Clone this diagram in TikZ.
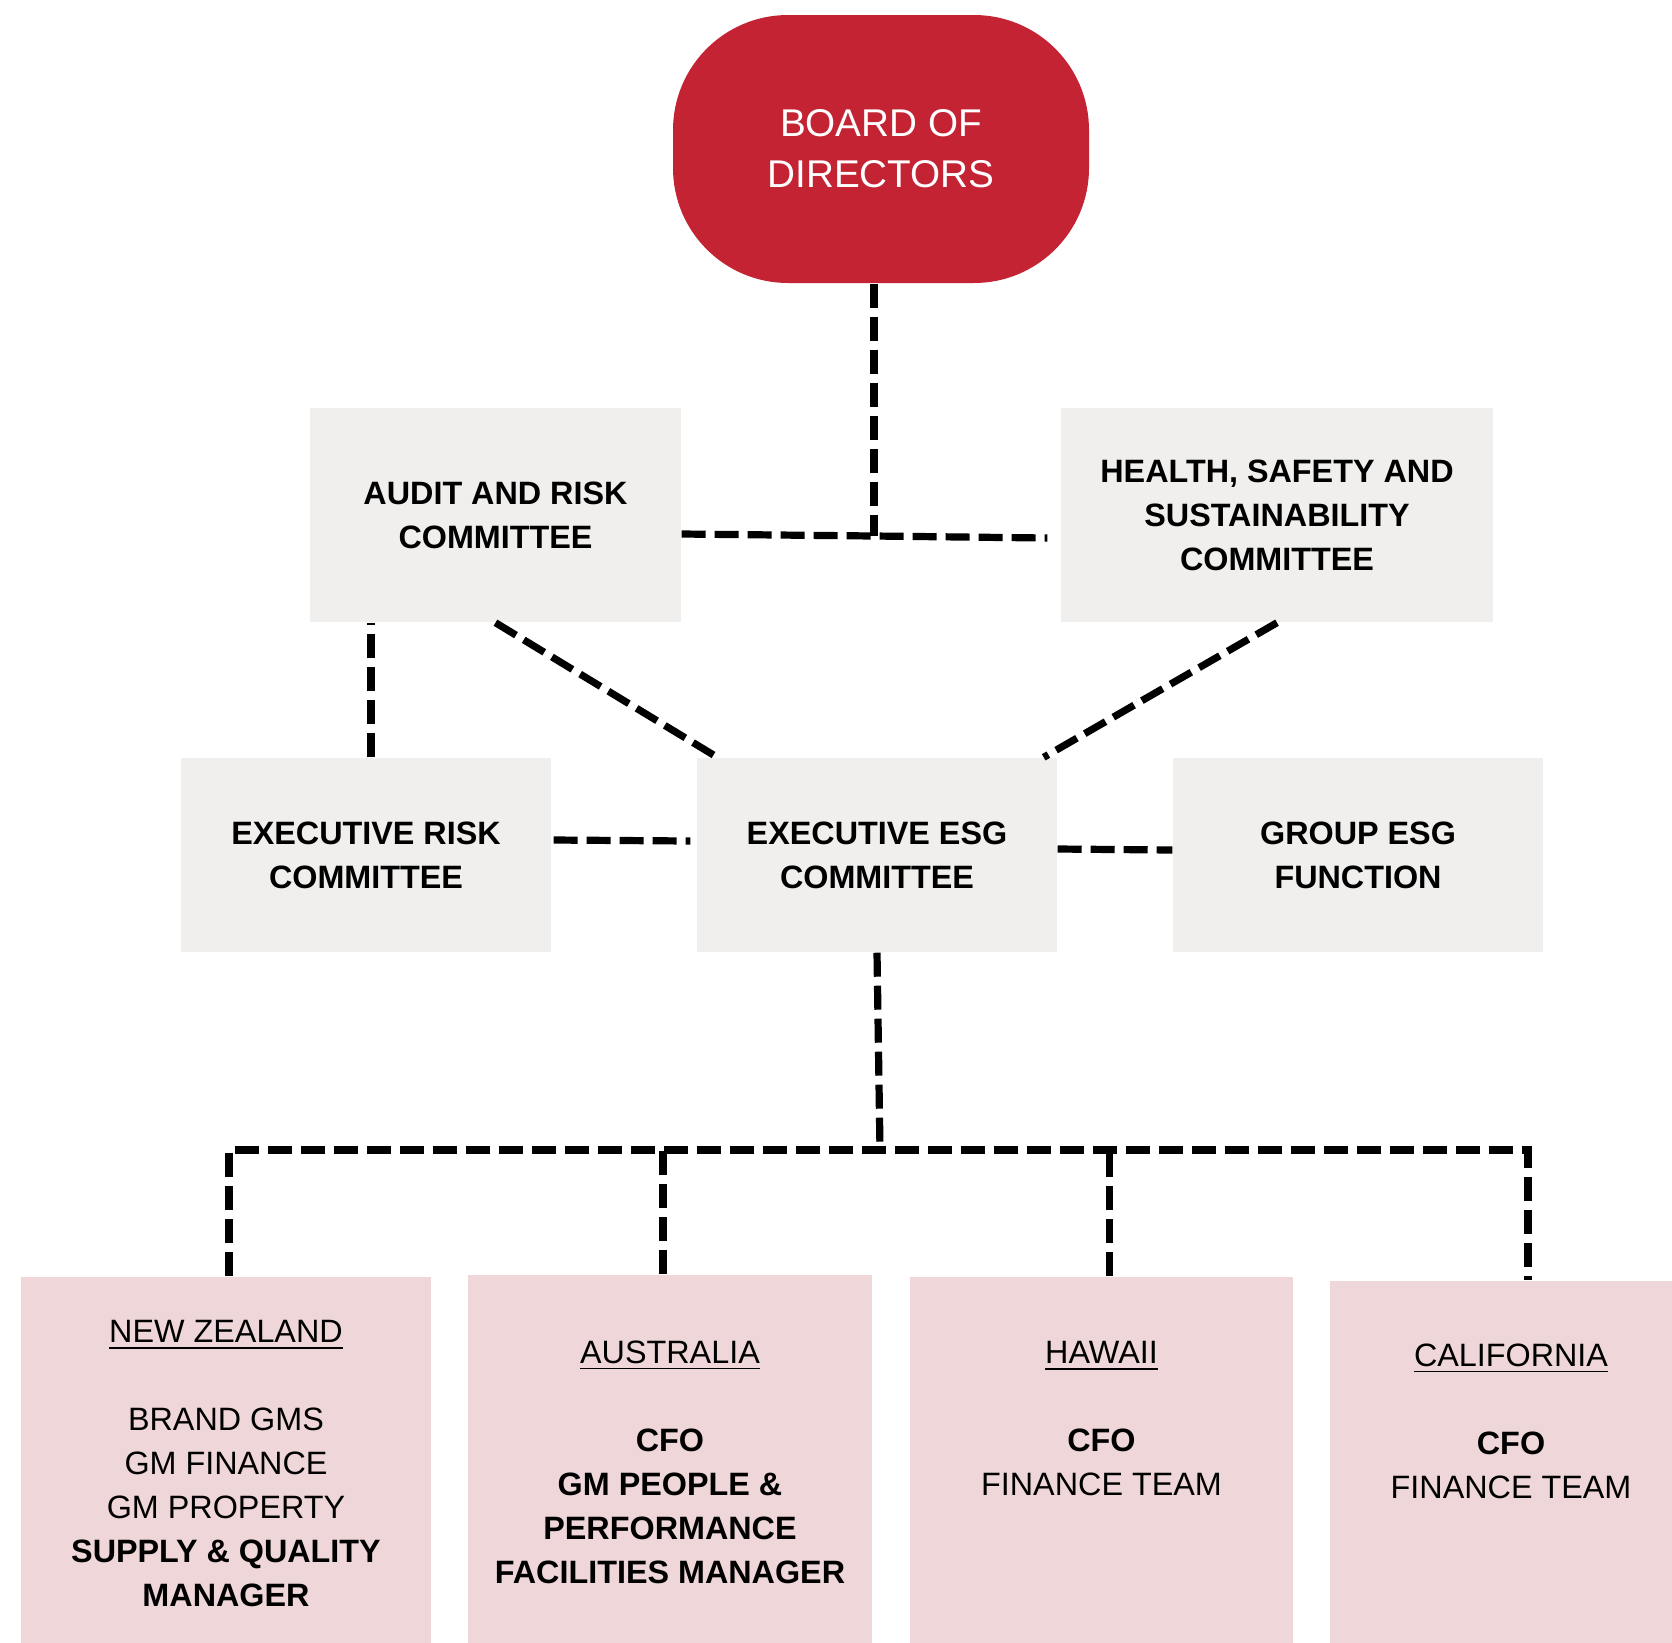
\documentclass[tikz,border=0pt]{standalone}
\usepackage{fontspec}
\setmainfont{Liberation Sans}
\definecolor{boardred}{RGB}{195,35,51}
\definecolor{greyfill}{RGB}{240,239,237}
\definecolor{pinkfill}{RGB}{239,215,217}

\begin{document}
\begin{tikzpicture}[
  box/.style={fill=greyfill,inner sep=0pt,align=center,font=\bfseries\fontsize{9.2pt}{12.5pt}\selectfont},
  region/.style={fill=pinkfill,inner sep=0pt,anchor=north,minimum width=#1},
  regiontext/.style={anchor=north,inner sep=0pt,align=center,font=\fontsize{9.2pt}{12.5pt}\selectfont},
  dashline/.style={line width=2.05pt,dash pattern=on 0.24cm off 0.09cm}]
\useasboundingbox (0,0) rectangle (16.72,-16.42);

\node[fill=boardred,rounded corners=1.15cm,minimum width=4.16cm,minimum height=2.68cm,
text=white,align=center,font=\fontsize{11pt}{14.5pt}\selectfont] (board) at (8.81,-1.49)
{BOARD OF\\DIRECTORS};

\node[box,minimum width=3.71cm,minimum height=2.14cm] (audit) at (4.955,-5.15) {AUDIT AND RISK\\COMMITTEE};
\node[box,minimum width=4.32cm,minimum height=2.14cm] (hsc) at (12.77,-5.15) {HEALTH, SAFETY AND\\SUSTAINABILITY\\COMMITTEE};
\node[box,minimum width=3.70cm,minimum height=1.94cm] (exrisk) at (3.66,-8.55) {EXECUTIVE RISK\\COMMITTEE};
\node[box,minimum width=3.60cm,minimum height=1.94cm] (exesg) at (8.77,-8.55) {EXECUTIVE ESG\\COMMITTEE};
\node[box,minimum width=3.70cm,minimum height=1.94cm] (groupesg) at (13.58,-8.55) {GROUP ESG\\FUNCTION};

\node[region=4.10cm,minimum height=3.66cm,
label={[regiontext,yshift=-0.44cm]north:{\underline{NEW ZEALAND}\\[0.44cm]BRAND GMS\\GM FINANCE\\GM PROPERTY\\\textbf{SUPPLY \& QUALITY}\\\textbf{MANAGER}}}]
(nz) at (2.26,-12.76) {};
\node[region=4.04cm,minimum height=3.68cm,
label={[regiontext,yshift=-0.66cm]north:{\underline{AUSTRALIA}\\[0.44cm]\textbf{CFO}\\\textbf{GM PEOPLE \&}\\\textbf{PERFORMANCE}\\\textbf{FACILITIES MANAGER}}}]
(aus) at (6.70,-12.74) {};
\node[region=3.83cm,minimum height=3.66cm,
label={[regiontext,yshift=-0.65cm]north:{\underline{HAWAII}\\[0.44cm]\textbf{CFO}\\FINANCE TEAM}}]
(hawaii) at (11.015,-12.76) {};
\node[region=3.42cm,minimum height=3.62cm,
label={[regiontext,xshift=0.10cm,yshift=-0.63cm]north:{\underline{CALIFORNIA}\\[0.44cm]\textbf{CFO}\\FINANCE TEAM}}]
(calif) at (15.01,-12.80) {};

\coordinate (bj) at (8.74,-5.36);
\coordinate (bus) at (8.80,-11.50);

\draw[dashline] (bj |- board.south) -- (bj);
\draw[dashline] ([yshift=-0.19cm]audit.east) -- (bj) -- ([xshift=-0.13cm,yshift=-0.23cm]hsc.west);
\draw[dashline] ([xshift=0.05cm]exrisk.north) -- ([xshift=0.05cm]exrisk.north |- audit.south);
\draw[dashline] (audit.south) -- ([xshift=0.21cm]exesg.north west);
\draw[dashline] (hsc.south) -- ([xshift=-0.14cm]exesg.north east);
\draw[dashline] ([xshift=0.02cm,yshift=0.15cm]exrisk.east) -- ([xshift=-0.06cm,yshift=0.14cm]exesg.west);
\draw[dashline] ([yshift=0.06cm]exesg.east) -- ([yshift=0.05cm]groupesg.west);
\draw[dashline] (exesg.south) -- (bus);
\draw[dashline] ([xshift=0.03cm]nz.north) |- (bus) -| ([xshift=0.27cm]calif.north);
\draw[dashline] ([xshift=-0.07cm]aus.north) -- ([xshift=-0.07cm]aus.north |- bus);
\draw[dashline] ([xshift=0.08cm]hawaii.north) -- ([xshift=0.08cm]hawaii.north |- bus);
\end{tikzpicture}
\end{document}
